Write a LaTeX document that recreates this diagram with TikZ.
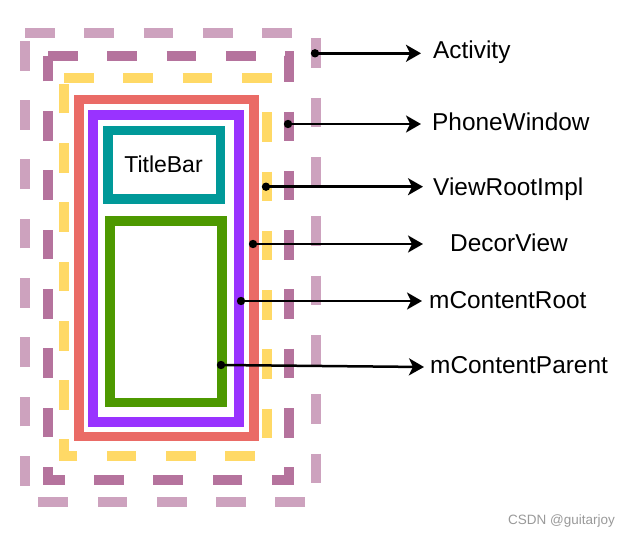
\documentclass[tikz,border=0pt]{standalone}
\usepackage{fontspec}
\setmainfont{Liberation Sans}
\usetikzlibrary{arrows.meta}
\definecolor{pinkl}{HTML}{CDA2BE}
\definecolor{pinkd}{HTML}{B5739D}
\definecolor{yel}{HTML}{FFD966}
\definecolor{redc}{HTML}{EA6B66}
\definecolor{purp}{HTML}{9933FF}
\definecolor{teal}{HTML}{009999}
\definecolor{grn}{HTML}{4D9900}
\definecolor{wm}{HTML}{999999}
\tikzset{
  frame/.style={line width=9.8pt, line join=miter},
  dframe/.style={frame, dash pattern=on 29.65pt off 29.65pt},
  lbl/.style={anchor=base west, inner sep=0pt, font=\fontsize{24.4}{28}\selectfont},
  pointer/.style={line width=2.5pt, -{Stealth[length=15pt,width=17pt,inset=4pt]}},
  dotc/.style={fill=black}
}
\begin{document}
\begin{tikzpicture}[x=1pt,y=-1pt]
\useasboundingbox (0,0) rectangle (634,535);
% dashed frames
\draw[dframe, pinkl] (25,33) -- (316,33) -- (316,502) -- (25,502) -- cycle;
\draw[dframe, pinkd] (48,56) -- (289,56) -- (289,480) -- (48,480) -- cycle;
\draw[dframe, yel] (64,78) -- (267,78) -- (267,456) -- (64,456) -- cycle;
% solid frames
\draw[frame, redc] (79,99.4) -- (254.2,99.4) -- (254.2,436.4) -- (79,436.4) -- cycle;
\draw[frame, purp] (93.2,114.7) -- (239.2,114.7) -- (239.2,421.9) -- (93.2,421.9) -- cycle;
\draw[frame, teal] (108,130.4) -- (220.5,130.4) -- (220.5,198.9) -- (108,198.9) -- cycle;
\draw[frame, grn] (110.2,221) -- (222.3,221) -- (222.3,402.5) -- (110.2,402.5) -- cycle;
\node[anchor=base, inner sep=0pt, font=\fontsize{23}{27}\selectfont] (tb) at (163.5,172.3) {TitleBar};
% labels
\node[lbl] (lact) at (433,58.3) {Activity};
\node[lbl] (lpw) at (432,130) {PhoneWindow};
\node[lbl] (lvri) at (433,195) {ViewRootImpl};
\node[lbl] (ldv) at (450,251.7) {DecorView};
\node[lbl] (lcr) at (429,308.3) {mContentRoot};
\node[lbl] (lcp) at (430,373.3) {mContentParent};
% pointer coordinates
\coordinate (sact) at (315,53.3);   \coordinate (eact) at (421,53.3);
\coordinate (spw) at (288,124);     \coordinate (epw) at (421,124);
\coordinate (svri) at (266,186.7);  \coordinate (evri) at (423,186.7);
\coordinate (sdv) at (253,244);     \coordinate (edv) at (423,244);
\coordinate (scr) at (241,301);     \coordinate (ecr) at (422,301);
\coordinate (scp) at (221,365);     \coordinate (ecp) at (424,367);
\foreach \a in {act,pw,vri,dv,cr,cp}{
  \draw[pointer] (s\a) -- (e\a);
  \fill[dotc] (s\a) circle (4.2pt);
}
% watermark
\node[anchor=base west, inner sep=0pt, text=wm, font=\fontsize{13.5}{16}\selectfont] (wmk) at (508,524) {CSDN @guitarjoy};
\end{tikzpicture}
\end{document}
